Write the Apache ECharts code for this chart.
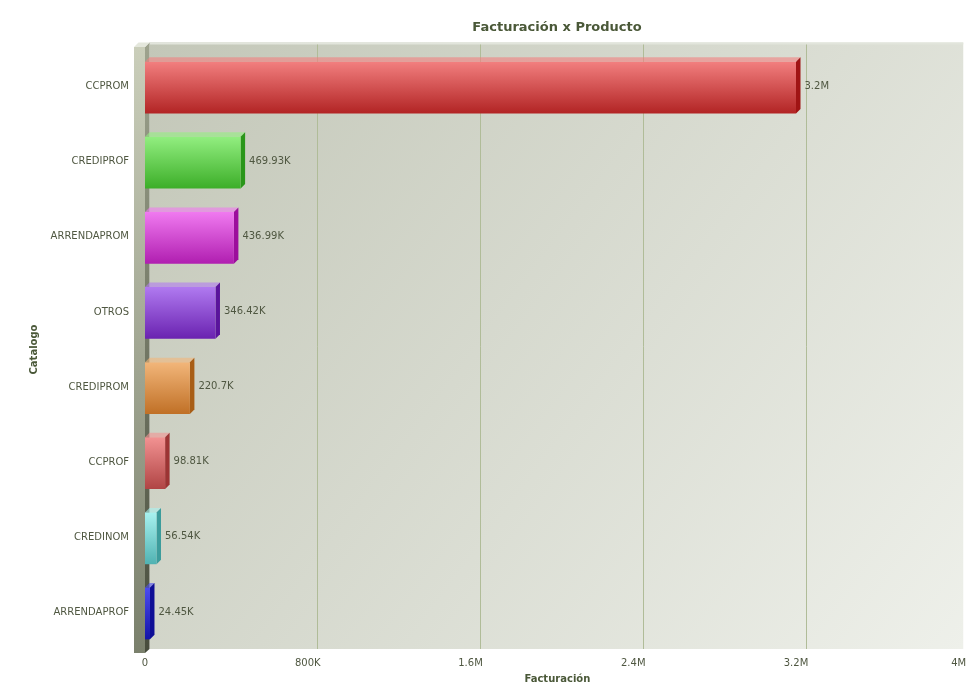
<!DOCTYPE html>
<html>
<head>
<meta charset="utf-8">
<script src="https://cdn.jsdelivr.net/npm/echarts@6/dist/echarts.min.js"></script>
<style>
html,body{margin:0;padding:0;background:#fff;}
#chart{width:980px;height:700px;}
</style>
</head>
<body>
<div id="chart"></div>
<script>
var categories = ['CCPROM','CREDIPROF','ARRENDAPROM','OTROS','CREDIPROM','CCPROF','CREDINOM','ARRENDAPROF'];
var values = [3200000, 469930, 436990, 346420, 220700, 98810, 56540, 24450];
var valueLabels = ['3.2M','469.93K','436.99K','346.42K','220.7K','98.81K','56.54K','24.45K'];
var xTickValues = [0, 800000, 1600000, 2400000, 3200000, 4000000];
var xTickLabels = ['0','800K','1.6M','2.4M','3.2M','4M'];
var barTop = ['#f27f7f','#92ee80','#f07af0','#b07af0','#f2b67a','#f29292','#a8f2f0','#4c4cf0'];
var barBottom = ['#b22424','#3cae28','#b01eb0','#6a22b0','#c07026','#b04444','#50b2b2','#1414a8'];
var barSide = ['#a01414','#2a961a','#9c0e9c','#5a149c','#a85e16','#9c3434','#3c9c9c','#0e0e96'];

var TXT = '#4f5741';
var FONT = '"DejaVu Sans", sans-serif';

var chart = echarts.init(document.getElementById('chart'));

function grad(c1, c2) {
  return new echarts.graphic.LinearGradient(0, 0, 0, 1, [{offset: 0, color: c1}, {offset: 1, color: c2}]);
}

var DX = 4.5, DY = -4.5;
var BAR_SHIFT = 1;

function renderDecor(params, api) {
  var cs = params.coordSys;
  var x0 = cs.x, y0 = cs.y, w = cs.width, h = cs.height;
  var wt = y0 - 2;            // front top of left wall
  var bx0 = x0 + DX, by0 = wt + DY, by1 = y0 + h - 1;
  var children = [];
  // back wall
  children.push({
    type: 'rect',
    shape: {x: bx0, y: by0, width: w, height: by1 - by0},
    style: {fill: new echarts.graphic.LinearGradient(0, 0, 1, 1, [
      {offset: 0, color: '#c3c7b8'}, {offset: 1, color: '#eef0ea'}])}
  });
  // top light edge of back wall
  children.push({
    type: 'rect',
    shape: {x: bx0, y: by0, width: w, height: 2},
    style: {fill: '#e2e5dc'}
  });
  // grid lines (on back wall)
  for (var i = 1; i < xTickValues.length - 1; i++) {
    var gx = Math.round(api.coord([xTickValues[i], 0])[0] + 9.5) + 0.5;
    children.push({
      type: 'line',
      shape: {x1: gx, y1: by0 + 2, x2: gx, y2: by1},
      style: {stroke: '#b0bc98', lineWidth: 1}
    });
  }
  // left wall: front face
  var lw = 11;
  children.push({
    type: 'rect',
    shape: {x: x0 - lw, y: wt, width: lw, height: by1 + 4 - wt},
    style: {fill: grad('#caceba', '#7a806c')}
  });
  // left wall: side face
  children.push({
    type: 'polygon',
    shape: {points: [[x0, wt], [x0 + DX, wt + DY], [x0 + DX, by1], [x0, by1 + 4]]},
    style: {fill: grad('#9ea38e', '#474c3c')}
  });
  // left wall: top face
  children.push({
    type: 'polygon',
    shape: {points: [[x0 - lw, wt], [x0 - lw + DX, wt + DY], [x0 + DX, wt + DY], [x0, wt]]},
    style: {fill: '#e4e7dc'}
  });
  return {type: 'group', children: children};
}

function renderBar(params, api) {
  var idx = params.dataIndex;
  var v = api.value(0);
  var c = api.value(1);
  var p0 = api.coord([0, c]);
  var p1 = api.coord([v, c]);
  var band = api.size([0, 1])[1];
  var bh = band * 0.69;
  var yc = p1[1] + BAR_SHIFT;
  var x0 = p0[0], x1 = p1[0], yt = yc - bh / 2, yb = yc + bh / 2;
  return {
    type: 'group',
    children: [
      {type: 'polygon', shape: {points: [[x0, yt], [x0 + DX, yt + DY], [x1 + DX, yt + DY], [x1, yt]]},
        style: {fill: barTop[idx], opacity: 0.6}},
      {type: 'polygon', shape: {points: [[x1, yt], [x1 + DX, yt + DY], [x1 + DX, yb + DY], [x1, yb]]},
        style: {fill: barSide[idx]}},
      {type: 'rect', shape: {x: x0, y: yt, width: x1 - x0, height: bh},
        style: {fill: grad(barTop[idx], barBottom[idx])}},
      {type: 'text', x: x1 + DX + 4, y: p1[1] - 0.5,
        style: {text: valueLabels[idx], fill: TXT, font: '10px ' + FONT, verticalAlign: 'middle', align: 'left'}}
    ]
  };
}

var barData = values.map(function (v, i) { return [v, i]; });

chart.setOption({
  animation: false,
  backgroundColor: '#ffffff',
  title: {
    text: 'Facturación x Producto',
    left: 552, top: 16, textAlign: 'center',
    textStyle: {fontFamily: FONT, fontSize: 13, fontWeight: 'bold', color: '#4a5838'}
  },
  grid: {left: 145, right: 21.25, top: 49, bottom: 50},
  xAxis: {
    type: 'value', min: 0, max: 4000000, interval: 800000,
    name: 'Facturación', nameLocation: 'middle', nameGap: 24,
    nameTextStyle: {fontFamily: FONT, fontSize: 10, fontWeight: 'bold', color: '#4a5838', padding: [0, 0, 0, 11]},
    axisLine: {show: false}, axisTick: {show: false}, splitLine: {show: false},
    axisLabel: {
      margin: 8, fontFamily: FONT, fontSize: 10, color: TXT,
      formatter: function (val) { return xTickLabels[Math.round(val / 800000)]; }
    }
  },
  yAxis: {
    type: 'category', data: categories, inverse: true,
    name: 'Catalogo', nameLocation: 'middle', nameGap: 99, nameRotate: 90,
    nameTextStyle: {fontFamily: FONT, fontSize: 10, fontWeight: 'bold', color: '#4a5838'},
    axisLine: {show: false}, axisTick: {show: false}, splitLine: {show: false},
    axisLabel: {margin: 16, fontFamily: FONT, fontSize: 10, color: TXT}
  },
  series: [
    {type: 'custom', z: 1, silent: true, renderItem: renderDecor, data: [[0, 0]], clip: false},
    {type: 'custom', z: 2, renderItem: renderBar, data: barData, encode: {x: 0, y: 1}, clip: false}
  ]
});
</script>
</body>
</html>
